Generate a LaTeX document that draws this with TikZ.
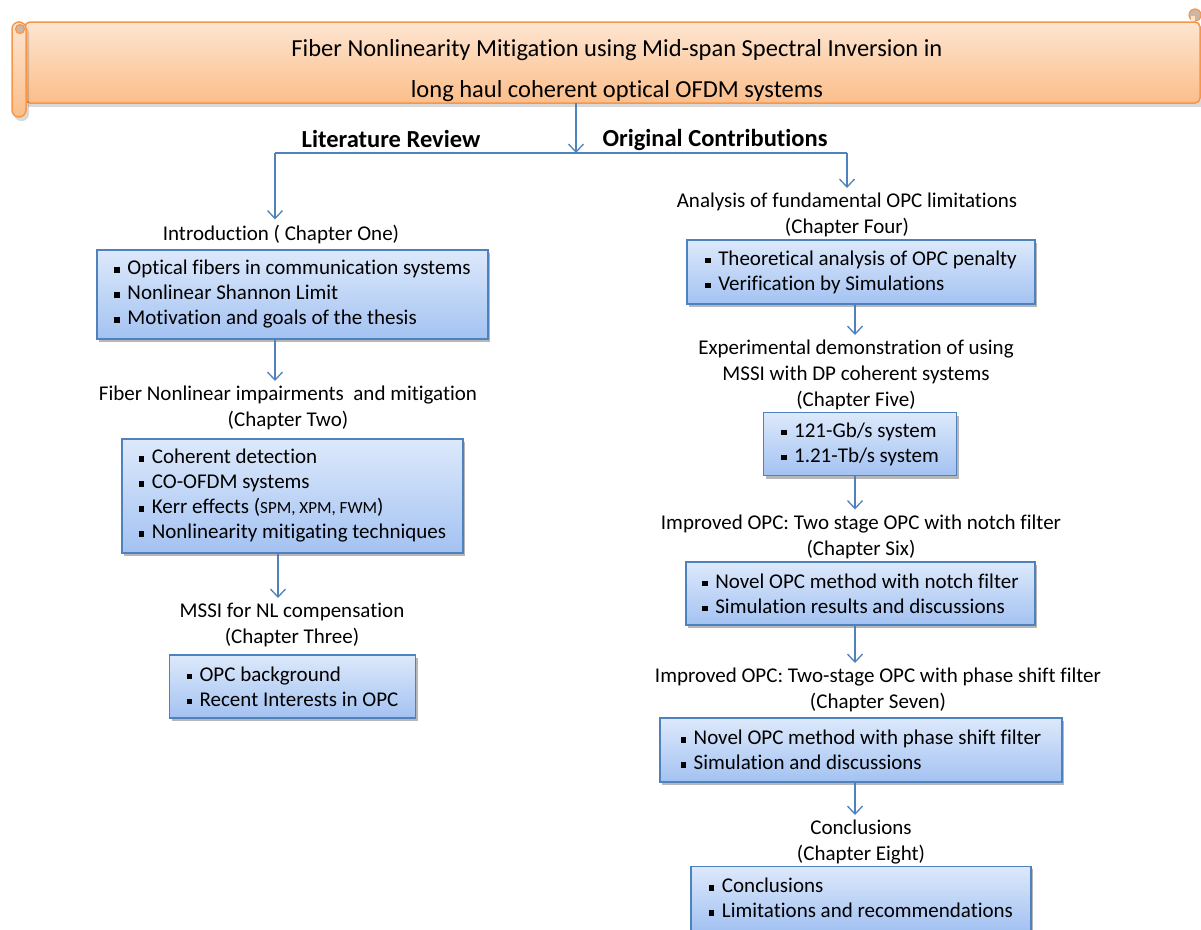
\documentclass[tikz,border=0pt]{standalone}
\usepackage{fontspec}
\setmainfont{Carlito}[Ligatures=NoCommon]
\usetikzlibrary{arrows.meta,shadows,calc}

\definecolor{flowblue}{HTML}{4F81BD}
\definecolor{boxtop}{HTML}{DDE9FB}
\definecolor{boxbot}{HTML}{A3C2F2}
\definecolor{scrolledge}{HTML}{F79646}
\definecolor{scrolltop}{HTML}{FDE5D1}
\definecolor{scrollbot}{HTML}{FBBE8A}
\definecolor{curlfill}{HTML}{C9B8A8}

\newcommand\bodyfont{\fontsize{21}{25}\selectfont}
\newcommand\titlefont{\fontsize{21}{25.8}\selectfont}
\newcommand\headfont{\fontsize{24.5}{28}\selectfont\bfseries}
\newcommand\bannerfont{\fontsize{24.5}{41}\selectfont}
\newcommand\itm{\makebox[13pt][l]{\rule[2.1pt]{5.5pt}{5.5pt}}}

\tikzset{
  arr/.style={draw=flowblue, line width=1.3pt,
    -{Straight Barb[length=8pt,width=15pt,line width=1.3pt]}},
  toTitle/.style={arr, shorten >=4pt},
  link/.style={draw=flowblue, line width=1.3pt},
  chaptitle/.style={align=center, font=\titlefont, inner sep=1pt, anchor=north},
  listbox/.style={draw=flowblue, line width=1.1pt, top color=boxtop,
    bottom color=boxbot, align=left, font=\bodyfont, inner sep=0pt,
    drop shadow={shadow xshift=2pt, shadow yshift=-3pt, opacity=.4, fill=black!70}},
}

\begin{document}
\begin{tikzpicture}[x=1pt,y=-1pt]
\useasboundingbox (0,0) rectangle (1201,929);

% ---- scroll banner ----
\fill[black, opacity=.15] (28,26) rectangle (1202,107);
\path[shade, top color=scrolltop, bottom color=scrollbot, draw=scrolledge,
      line width=1.5pt, rounded corners=5pt] (25,22) rectangle (1200,103);
\fill[black, opacity=.15, rounded corners=7pt] (14,26) rectangle (29,121);
\path[shade, top color=scrolltop, bottom color=scrollbot, draw=scrolledge,
      line width=1.5pt, rounded corners=7pt] (12,22) rectangle (26,117);
\draw[scrolledge, fill=curlfill, line width=1.2pt] (20,29) circle (4.5);
\draw[scrolledge, fill=curlfill, line width=1.2pt] (1195,15) circle (6);
\fill[scrolltop] (1191,16) rectangle (1195,21);

\node[font=\bannerfont, align=center] (banner) at (617,70.5)
  {Fiber Nonlinearity Mitigation using Mid-span Spectral Inversion in\\
   long haul coherent optical OFDM systems};

% ---- branch ----
\coordinate (mid) at (576,153);
\coordinate (lc) at (275,153);
\coordinate (rc) at (847,153);
\coordinate (bannerbase) at (576,103);
\draw[arr] (bannerbase) -- (mid);
\draw[link] (lc) -- (rc);

\node[font=\headfont] (litrev) at (391,139) {Literature Review};
\node[font=\headfont] (origc) at (715,140) {Original Contributions};

% column guides
\coordinate (L1) at (275,0);
\coordinate (L2) at (278,0);
\coordinate (R) at (855,0);

% ---- literature review column ----
\node[chaptitle] (t1) at (281,223.5) {Introduction ( Chapter One)};
\node[listbox, minimum width=391, minimum height=89] (b1) at (292.5,294.5)
  {\itm Optical fibers in communication systems\\
   \itm Nonlinear Shannon Limit\\
   \itm Motivation and goals of the thesis};

\node[chaptitle] (t2) at (288,385)
  {Fiber Nonlinear impairments \ and mitigation\\(Chapter Two)};
\node[listbox, minimum width=341, minimum height=114] (b2) at (292.5,496)
  {\itm Coherent detection\\
   \itm CO-OFDM systems\\
   \itm Kerr effects ({\fontsize{17}{25}\selectfont SPM, XPM, FWM})\\
   \itm Nonlinearity mitigating techniques};

\node[chaptitle] (t3) at (292,602)
  {MSSI for NL compensation\\(Chapter Three)};
\node[listbox, minimum width=246, minimum height=63] (b3) at (292.5,686.5)
  {\itm OPC background\\
   \itm Recent Interests in OPC};

% ---- original contributions column ----
\node[chaptitle] (t4) at (847,192)
  {Analysis of fundamental OPC limitations\\(Chapter Four)};
\node[listbox, minimum width=348, minimum height=64] (b4) at (861,272)
  {\itm Theoretical analysis of OPC penalty\\
   \itm Verification by Simulations};

\node[chaptitle] (t5) at (856,339)
  {Experimental demonstration of using\\MSSI with DP coherent systems\\(Chapter Five)};
\node[listbox, minimum width=193, minimum height=63] (b5) at (860,444)
  {\itm 121-Gb/s system\\
   \itm 1.21-Tb/s system};

\node[chaptitle] (t6) at (861,513.5)
  {Improved OPC: Two stage OPC with notch filter\\(Chapter Six)};
\node[listbox, minimum width=349, minimum height=63] (b6) at (860.5,593.5)
  {\itm Novel OPC method with notch filter\\
   \itm Simulation results and discussions};

\node[chaptitle] (t7) at (878,667)
  {Improved OPC: Two-stage OPC with phase shift filter\\(Chapter Seven)};
\node[listbox, minimum width=402, minimum height=64] (b7) at (861,750)
  {\itm Novel OPC method with phase shift filter\\
   \itm Simulation and discussions};

\node[chaptitle] (t8) at (861,819)
  {Conclusions\\(Chapter Eight)};
\node[listbox, minimum width=340, minimum height=64, anchor=north] (b8) at (861,865.5)
  {\itm Conclusions\\
   \itm Limitations and recommendations};

% ---- connectors ----
\draw[toTitle] (lc) -- (t1.north -| lc);
\draw[toTitle] (b1.south -| L1) -- (t2.north -| L1);
\draw[toTitle] (b2.south -| L2) -- (t3.north -| L2);
\draw[toTitle] (rc) -- (t4.north -| rc);
\draw[toTitle] (b4.south -| R) -- (t5.north -| R);
\draw[toTitle] (b5.south -| R) -- (t6.north -| R);
\draw[toTitle] (b6.south -| R) -- (t7.north -| R);
\draw[toTitle] (b7.south -| R) -- (t8.north -| R);
\end{tikzpicture}
\end{document}
